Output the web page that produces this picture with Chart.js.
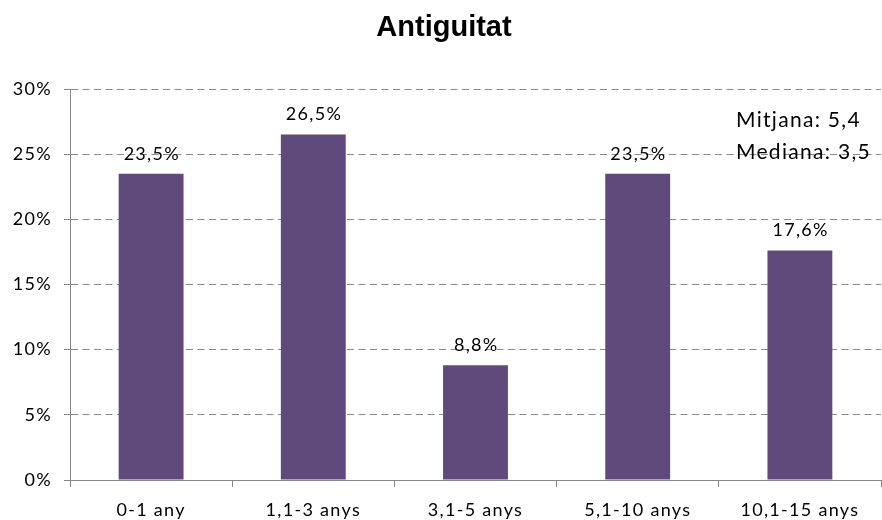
<!DOCTYPE html>
<html>
<head>
<meta charset="utf-8">
<script src="https://cdn.jsdelivr.net/npm/chart.js@4"></script>
<style>
html,body{margin:0;padding:0;background:#fff;}
#wrap{width:882px;height:520px;}
</style>
</head>
<body>
<div id="wrap"><canvas id="c" width="882" height="520"></canvas></div>
<script>
const categories = ["0-1 any", "1,1-3 anys", "3,1-5 anys", "5,1-10 anys", "10,1-15 anys"];
const values = [23.5, 26.5, 8.8, 23.5, 17.6];
const yTicks = [0, 5, 10, 15, 20, 25, 30];
const chartTitle = "Antiguitat";
const noteLines = ["Mitjana: 5,4", "Mediana: 3,5"];

const FONT = "Lato, 'Open Sans', sans-serif";
const SPACING = '1.3px';
const fmt = v => v.toFixed(1).replace('.', ',') + '%';

const spacingPlugin = {
  id: 'spacing',
  beforeDraw(chart) { chart.ctx.letterSpacing = SPACING; }
};

const labelPlugin = {
  id: 'labels',
  afterDatasetsDraw(chart) {
    const ctx = chart.ctx;
    const meta = chart.getDatasetMeta(0);
    ctx.save();
    ctx.letterSpacing = SPACING;
    ctx.font = "18px " + FONT;
    ctx.fillStyle = "#000";
    ctx.textAlign = "center";
    ctx.textBaseline = "middle";
    meta.data.forEach((bar, i) => {
      ctx.fillText(fmt(values[i]), bar.x + 0.7, bar.y - 20);
    });
    // note
    ctx.font = "21px " + FONT;
    ctx.letterSpacing = '1.3px';
    ctx.textAlign = "left";
    const area = chart.chartArea;
    noteLines.forEach((t, i) => {
      ctx.fillText(t, area.right - 145, area.top + 31 + i * 32);
    });
    // title
    ctx.letterSpacing = '0px';
    ctx.font = "bold 29px 'Liberation Sans', Arial, sans-serif";
    ctx.textAlign = "center";
    ctx.fillText(chartTitle, chart.width / 2 + 3, 28);
    ctx.restore();
  }
};

new Chart(document.getElementById('c'), {
  type: 'bar',
  data: {
    labels: categories,
    datasets: [{
      data: values,
      backgroundColor: '#604A7B',
      borderWidth: 0,
      categoryPercentage: 1,
      barPercentage: 0.4
    }]
  },
  options: {
    responsive: false,
    animation: false,
    devicePixelRatio: 1,
    layout: { padding: { left: 0, right: 1, top: 89, bottom: 0 } },
    plugins: {
      legend: { display: false },
      tooltip: { enabled: false },
      title: { display: false }
    },
    scales: {
      x: {
        grid: { display: true, drawOnChartArea: false, drawTicks: true, tickLength: 7, color: '#888888', offset: true },
        border: { display: true, color: '#888888', width: 1 },
        ticks: { font: { family: FONT, size: 18 }, color: '#000', padding: 12, maxRotation: 0, autoSkip: false },
        afterFit(scale) { scale.height = 40; }
      },
      y: {
        min: 0, max: 30,
        afterBuildTicks(scale) { scale.ticks = yTicks.map(v => ({ value: v })); },
        grid: {
          color: ctx => ctx.index === 0 ? 'rgba(0,0,0,0)' : '#8a8a8a',
          drawTicks: true, tickLength: 6,
          tickColor: '#888888', tickBorderDash: []
        },
        border: { display: true, color: '#888888', width: 1, dash: [7, 4.5] },
        ticks: { font: { family: FONT, size: 18 }, color: '#000', padding: 12, callback: v => v + '%' },
        afterFit(scale) { scale.width = 70; }
      }
    }
  },
  plugins: [spacingPlugin, labelPlugin]
});
</script>
</body>
</html>
